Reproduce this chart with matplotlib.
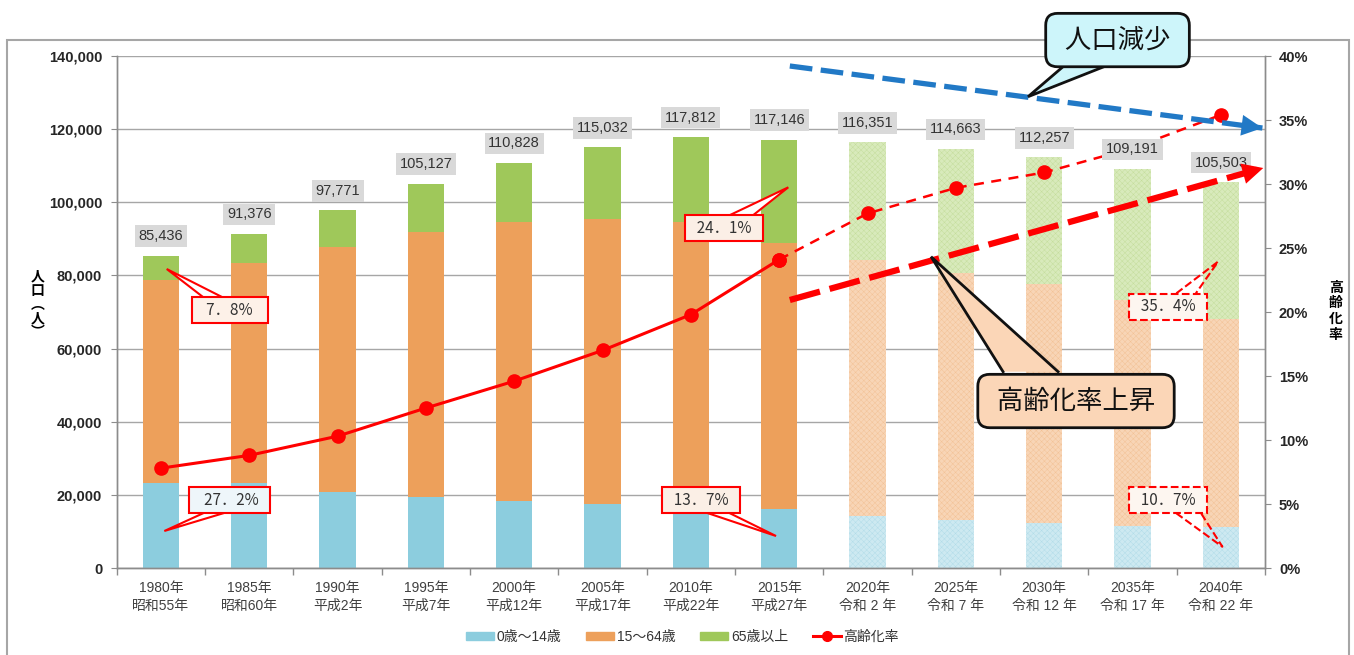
import matplotlib

matplotlib.use("Agg")
import matplotlib.pyplot as plt  # noqa: E402
from matplotlib.lines import Line2D  # noqa: E402
from matplotlib.patches import Patch, Polygon, Rectangle  # noqa: E402
from matplotlib.ticker import FixedLocator, FuncFormatter  # noqa: E402

plt.rcParams["font.family"] = ["Liberation Sans", "Noto Sans CJK JP"]
plt.rcParams["hatch.linewidth"] = 0.3
JP = ["Noto Sans CJK JP", "DejaVu Sans"]

# --- data -------------------------------------------------------------
years = ["1980年\n昭和55年", "1985年\n昭和60年", "1990年\n平成2年", "1995年\n平成7年",
         "2000年\n平成12年", "2005年\n平成17年", "2010年\n平成22年", "2015年\n平成27年",
         "2020年\n令和 2 年", "2025年\n令和 7 年", "2030年\n令和 12 年",
         "2035年\n令和 17 年", "2040年\n令和 22 年"]
total = [85436, 91376, 97771, 105127, 110828, 115032, 117812, 117146,
         116351, 114663, 112257, 109191, 105503]
young = [23239, 23300, 20700, 19300, 18400, 17500, 16500, 16049,
         14200, 13100, 12200, 11600, 11289]          # 0-14
elderly = [6664, 8041, 10070, 13141, 16181, 19555, 23327, 28232,
           32229, 34055, 34687, 35815, 37348]        # 65+
rate = [7.8, 8.8, 10.3, 12.5, 14.6, 17.0, 19.8, 24.1,
        27.7, 29.7, 30.9, 32.8, 35.4]                # aging rate %
n_actual = 8  # census years; the rest are projections

working = [t - y - e for t, y, e in zip(total, young, elderly)]
x = list(range(len(years)))

C_YOUNG, C_WORK, C_OLD = "#8ccdde", "#eda05b", "#9fc85a"
P_YOUNG, P_WORK, P_OLD = "#cde9f1", "#f8d5b6", "#d8eabb"
H_YOUNG, H_WORK, H_OLD = "#b0dbe8", "#f2c093", "#c3dc9a"
RED = "#ff0000"

fig = plt.figure(figsize=(13.54, 6.55), dpi=100)
ax = fig.add_axes([0.0862, 0.1328, 0.8481, 0.7817])
ax2 = ax.twinx()
D = ax.transData

# --- stacked bars -----------------------------------------------------
W = 0.41
a, p = slice(0, n_actual), slice(n_actual, None)
bottom2 = [y + w for y, w in zip(young, working)]
ax.bar(x[a], young[a], W, color=C_YOUNG, lw=0, zorder=2)
ax.bar(x[a], working[a], W, bottom=young[a], color=C_WORK, lw=0, zorder=2)
ax.bar(x[a], elderly[a], W, bottom=bottom2[a], color=C_OLD, lw=0, zorder=2)
ax.bar(x[p], young[p], W, color=P_YOUNG, ec=H_YOUNG, hatch="xxxxxx", lw=0, zorder=2)
ax.bar(x[p], working[p], W, bottom=young[p], color=P_WORK, ec=H_WORK,
       hatch="xxxxxx", lw=0, zorder=2)
ax.bar(x[p], elderly[p], W, bottom=bottom2[p], color=P_OLD, ec=H_OLD,
       hatch="xxxxxx", lw=0, zorder=2)

# total labels sit above the rate line (as in the original)
for xi, t in zip(x, total):
    ax2.annotate(f"{t:,}", (xi, t), xycoords=D, xytext=(0, 14), textcoords="offset points",
                 ha="center", va="center", fontsize=10.5, color="#333333",
                 bbox=dict(boxstyle="square,pad=0.25", fc="#d9d9d9", ec="none"),
                 zorder=6.5)

# --- axes styling -----------------------------------------------------
ax.set_xlim(-0.5, len(years) - 0.5)
ax.set_ylim(0, 140000)
ax.set_yticks(range(0, 140001, 20000))
ax.yaxis.set_major_formatter(FuncFormatter(lambda v, _: f"{int(v):,}"))
ax.grid(axis="y", color="#a6a6a6", lw=1.0, zorder=0)
ax.set_axisbelow(True)
ax.set_xticks(x)
ax.set_xticklabels(years, fontsize=10, color="#404040", linespacing=1.4)
ax.xaxis.set_minor_locator(FixedLocator([i + 0.5 for i in range(-1, len(years))]))
ax.tick_params(axis="x", which="major", length=0, pad=9)
ax.tick_params(axis="x", which="minor", length=5, color="#8c8c8c", width=1)
ax.tick_params(axis="y", length=4, color="#8c8c8c", pad=6.5, labelsize=10.5)
for lab in ax.get_yticklabels():
    lab.set_fontweight("bold")
    lab.set_color("#262626")

ax2.set_ylim(0, 40)
ax2.set_yticks(range(0, 41, 5))
ax2.yaxis.set_major_formatter(FuncFormatter(lambda v, _: f"{int(v)}%"))
ax2.tick_params(axis="y", length=4, color="#8c8c8c", pad=6, labelsize=10.5)
for lab in ax2.get_yticklabels():
    lab.set_fontweight("bold")
    lab.set_color("#262626")

for a_ in (ax, ax2):
    a_.spines["top"].set_visible(False)
    for s in ("left", "right", "bottom"):
        a_.spines[s].set_color("#8c8c8c")
        a_.spines[s].set_linewidth(1.0)

fig.text(0.028, 0.535, "\n".join("人口︵人︶"), ha="center", va="center",
         fontsize=10, fontweight="bold", family=JP, linespacing=1.0)
fig.text(0.9865, 0.525, "\n".join("高齢化率"), ha="center", va="center",
         fontsize=10, fontweight="bold", family=JP, linespacing=1.15)

# --- aging rate line --------------------------------------------------
ax2.plot(x[: n_actual], rate[: n_actual], color=RED, lw=2.2, marker="o",
         ms=9.5, zorder=6)
ax2.plot(x[n_actual - 1:], rate[n_actual - 1:], color=RED, lw=1.8, ls=(0, (4, 3)),
         marker="o", ms=9.5, zorder=6)


# --- trend arrows -----------------------------------------------------
def dashed_arrow(start, end, color, lw, dashes, head):
    ax2.plot([start[0], end[0]], [start[1], end[1]], transform=D, color=color,
             lw=lw, ls=(0, dashes), zorder=7, dash_capstyle="butt")
    dx, dy = end[0] - start[0], end[1] - start[1]
    back = (end[0] - dx * 0.045, end[1] - dy * 0.045)
    ax2.annotate("", xy=end, xytext=back, xycoords=D, textcoords=D,
                 arrowprops=dict(arrowstyle=f"-|>,head_length={head[0]},head_width={head[1]}",
                                 color=color, lw=0, shrinkA=0, shrinkB=0),
                 zorder=7, annotation_clip=False)


dashed_arrow((7.12, 137266), (12.47, 120313), "#2179c6", 3.8, (4.3, 1.6), (1.5, 0.75))
dashed_arrow((7.12, 73281), (12.48, 109375), RED, 4.5, (5, 1.6), (1.5, 0.75))


# --- callouts: box (text bbox) + pointer drawn beneath it ----------------
def callout(text, center, base, tip, fs, fc, ec, ls="-", lw=1.5,
            box="square,pad=0.3", wfc="white", color="#333333"):
    pts = [base[0], tip, base[1]]
    if wfc != "none":
        ax2.add_patch(Polygon(pts, closed=True, transform=D, fc=wfc, lw=0,
                              zorder=7.8, clip_on=False))
    ax2.plot([q[0] for q in pts], [q[1] for q in pts], transform=D, color=ec,
             lw=lw, ls=ls, zorder=7.9, clip_on=False, solid_joinstyle="miter")
    ax2.text(center[0], center[1], text, transform=D, ha="center", va="center",
             fontsize=fs, family=JP, color=color, zorder=8, clip_on=False,
             bbox=dict(boxstyle=box, fc=fc, ec=ec, lw=lw, ls=ls))


callout("   7．8%   ", (0.78, 70540), [(0.477, 74100), (0.692, 74100)],
        (0.066, 81760), 11, "#fdf1e8", RED)
callout("   27．2%  ", (0.78, 18590), [(0.477, 14960), (0.704, 14960)],
        (0.039, 10120), 11, "#eef6fa", RED)
callout("  24．1%  ", (6.375, 92960), [(6.443, 96520), (6.707, 96520)],
        (7.103, 104100), 11, "#fbefe6", RED)
callout("  13．7%  ", (6.115, 18590), [(6.197, 14960), (6.443, 14960)],
        (6.964, 8750), 11, "#fbefe6", RED)
callout("  35．4%  ", (11.40, 71440), [(11.496, 75110), (11.717, 75110)],
        (11.968, 83760), 11, "#fdf6f0", RED, ls="--", wfc="none")
callout("  10．7%  ", (11.40, 18590), [(11.496, 14960), (11.776, 14960)],
        (12.017, 5820), 11, "#fdf6f0", RED, ls="--", wfc="none")
callout(" 人口減少 ", (10.83, 144360), [(10.213, 137080), (10.677, 137080)],
        (9.817, 128870), 19, "#cdf5fa", "#111111", lw=2.0,
        box="round,pad=0.5,rounding_size=0.45", wfc="#cdf5fa", color="#111111")
callout(" 高齢化率上昇 ", (10.36, 45660), [(9.534, 53680), (10.157, 53680)],
        (8.719, 85120), 19, "#fbd6b7", "#111111", lw=2.0,
        box="round,pad=0.5,rounding_size=0.45", wfc="#fbd6b7", color="#111111")

# --- legend -----------------------------------------------------------
handles = [Patch(color=C_YOUNG), Patch(color=C_WORK), Patch(color=C_OLD),
           Line2D([], [], color=RED, lw=2.2, marker="o", ms=7)]
fig.legend(handles, ["0歳～14歳", "15～64歳", "65歳以上", "高齢化率"],
           loc="center", bbox_to_anchor=(0.504, 0.028), ncol=4, frameon=False,
           fontsize=10, handlelength=2.0, handleheight=0.55, handletextpad=0.2,
           columnspacing=1.8, labelcolor="#333333")

# outer frame
fig.patches.append(Rectangle((7 / 1354, -0.1), 1342 / 1354, 0.1 + 615 / 655,
                             transform=fig.transFigure, fill=False,
                             ec="#a6a6a6", lw=1.5, zorder=-1))

fig.savefig("out.png", dpi=100)
